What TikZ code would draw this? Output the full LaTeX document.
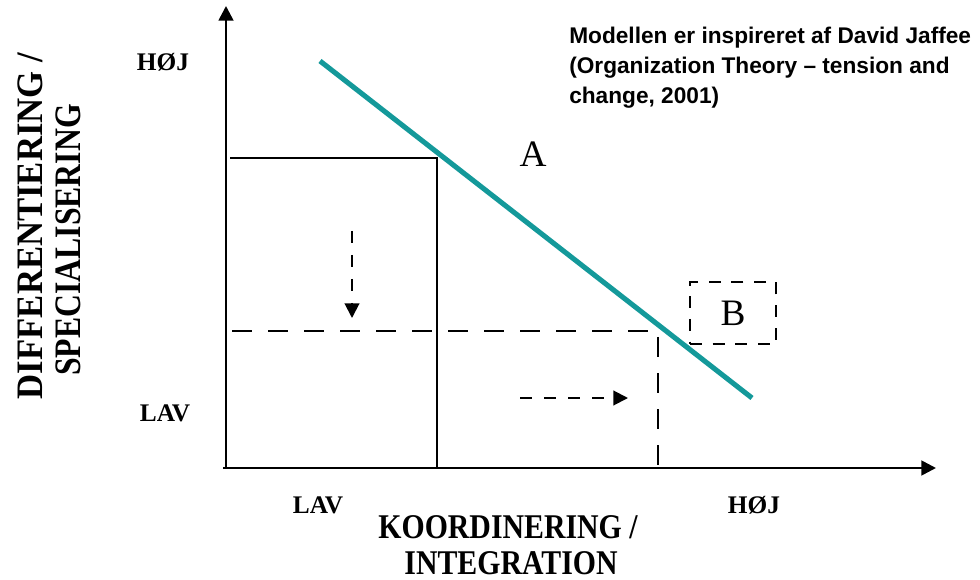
\documentclass[tikz,border=0pt]{standalone}
\usepackage{fontspec}
\setmainfont{Liberation Serif}
\newfontfamily\notefont{Liberation Sans}
\usetikzlibrary{arrows.meta}
\definecolor{tealline}{HTML}{14999A}
\tikzset{
  axisline/.style={line width=2pt, -{Triangle[length=11pt,width=11pt]}},
  guide/.style={line width=1.6pt},
  guidedash/.style={line width=2pt, dash pattern=on 15pt off 12pt},
  flow/.style={line width=1.5pt, dash pattern=on 9pt off 9pt, -{Triangle[length=11pt,width=11pt]}},
  levellabel/.style={font=\fontsize{19}{22}\selectfont\bfseries, inner sep=0pt},
  axistitle/.style={font=\fontsize{28}{30}\selectfont\bfseries, inner sep=0pt},
  xtitle/.style={font=\fontsize{26}{28}\selectfont\bfseries, inner sep=0pt, anchor=base},
  regionlabel/.style={font=\fontsize{28}{30}\selectfont, inner sep=0pt},
  trendline/.style={line width=3.8pt, tealline},
  boxB/.style={draw, line width=1.5pt, dash pattern=on 9pt off 8pt, minimum width=64.5pt, minimum height=47pt, inner sep=0pt, font=\fontsize{28}{30}\selectfont},
  notestyle/.style={anchor=north west, align=left, inner sep=0pt, font=\notefont\bfseries\fontsize{17}{22.5}\selectfont}
}
\begin{document}
\begin{tikzpicture}[x=0.75pt,y=-0.75pt]
\useasboundingbox (0,0) rectangle (980,580);
% axes
\coordinate (O) at (226,468);
\coordinate (Ox) at (223,468);
\coordinate (ytop) at (226,6);
\coordinate (xend) at (936,468);
\draw[axisline] (O) -- (ytop);
\draw[axisline] (Ox) -- (xend);
% solid guide
\coordinate (s1) at (230,158);
\coordinate (s2) at (437,158);
\coordinate (s3) at (437,468);
\draw[guide] (s1) -- (s2) -- (s3);
% dashed guide
\coordinate (d1) at (232,331);
\coordinate (d2) at (658,331);
\coordinate (d3) at (658,468);
\draw[guidedash] (d1) -- (d2) -- (d3);
% trend line
\coordinate (tA) at (320,61);
\coordinate (tB) at (752,398);
\draw[trendline] (tA) -- (tB);
% flow arrows
\coordinate (f1s) at (352,231);
\coordinate (f1e) at (352,318);
\draw[flow] (f1s) -- (f1e);
\coordinate (f2s) at (520,398);
\coordinate (f2e) at (628,398);
\draw[flow] (f2s) -- (f2e);
% labels
\node[regionlabel] (A) at (533,154) {A};
\node[boxB] (B) at (733,313) {B};
\node[levellabel] (hojy) at (163,62) {HØJ};
\node[levellabel] (lavy) at (165,413) {LAV};
\node[levellabel] (lavx) at (318,505) {LAV};
\node[levellabel] (hojx) at (754,505) {HØJ};
\node[xtitle] (xt1) at (508,538) {\scalebox{0.86}[1]{KOORDINERING /}};
\node[xtitle] (xt2) at (511,574) {\scalebox{0.86}[1]{INTEGRATION}};
\node[axistitle, rotate=90] (yt1) at (30,226) {\scalebox{0.93}[1]{DIFFERENTIERING /}};
\node[axistitle, rotate=90] (yt2) at (68,240) {\scalebox{0.85}[1]{SPECIALISERING}};
\node[notestyle] (note) at (569,27) {Modellen er inspireret af David Jaffee\\(Organization Theory – tension and\\change, 2001)};
\end{tikzpicture}
\end{document}
